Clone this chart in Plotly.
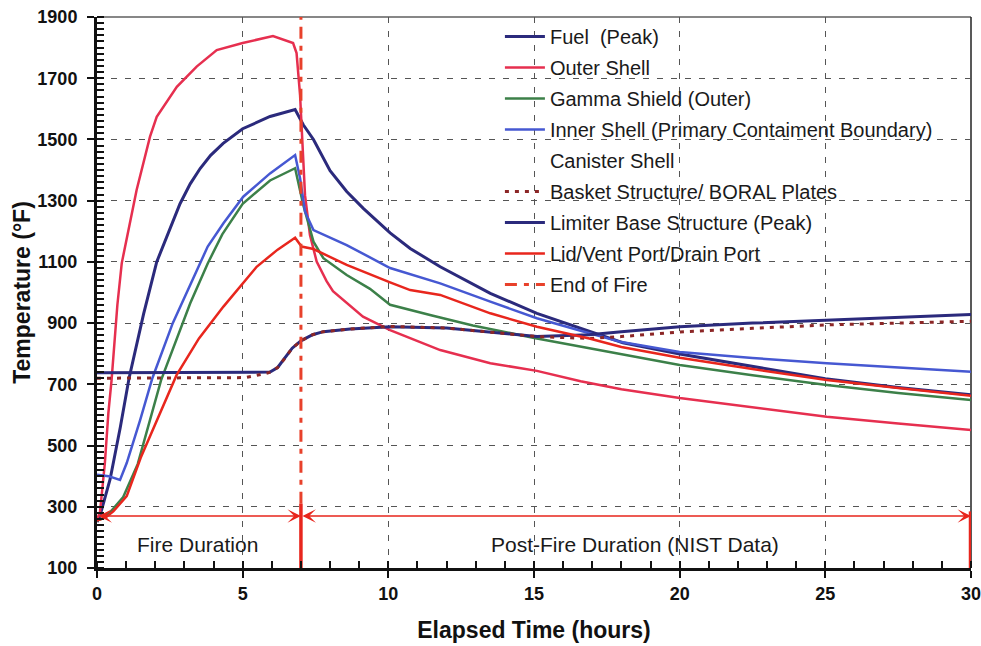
import plotly.graph_objects as go

# ---------------- data ----------------
fuel_t = [0, 0.1, 0.45, 0.8, 1.1, 1.6, 2.05, 2.5, 2.85, 3.2, 3.54, 3.9, 4.33, 5.0, 5.94, 6.8,
          7.08, 7.43, 8.0, 8.57, 9.14, 10.06, 10.75, 11.78, 13.5, 15.1, 16.9, 18.05,
          20, 22.5, 25, 27.5, 30]
fuel = [250, 270, 390, 560, 720, 930, 1100, 1210, 1290, 1355, 1405, 1448, 1487, 1535, 1575, 1598,
        1548, 1500, 1398, 1330, 1275, 1195, 1144, 1084, 997, 932, 872, 836,
        799, 758, 718, 690, 666]

outer_t = [0, 0.1, 0.27, 0.39, 0.5, 0.7, 0.85, 1.13, 1.36, 1.82, 2.05, 2.74, 3.42,
           4.11, 5.0, 6.04, 6.73, 6.85, 6.97, 7.14, 7.31, 7.54, 7.88, 8.1, 9.13,
           10.06, 11.78, 13.5, 15.1, 16.6, 18, 20, 22.5, 25.05, 27.5, 30]
outer = [260, 280, 443, 606, 714, 960, 1096, 1227, 1335, 1509, 1574, 1672, 1738,
         1792, 1815, 1838, 1815, 1782, 1645, 1318, 1188, 1101, 1037, 1004, 921,
         877, 812, 769, 744, 710, 684, 655, 624, 594, 572, 551]

gamma_t = [0, 0.2, 0.45, 0.9, 1.4, 2.2, 3.2, 3.8, 4.3, 5.0, 5.94, 6.8, 7.08, 7.43,
           7.77, 8.57, 9.37, 10.06, 11.5, 12.9, 15.1, 16.6, 18, 20, 22.5, 25.05, 27.5, 30]
gamma = [255, 262, 282, 332, 440, 714, 965, 1095, 1190, 1290, 1366, 1406, 1286, 1166,
         1112, 1057, 1012, 960, 925, 892, 850, 823, 798, 763, 730, 698, 672, 649]

inner_t = [0, 0.4, 0.79, 1.02, 1.48, 1.9, 2.6, 3.54, 3.8, 4.34, 5.02, 5.94, 6.8, 6.97,
           7.14, 7.43, 8.57, 10.06, 11.78, 13.5, 15.1, 16.9, 18, 20, 22.5, 25.05, 27.5, 30]
inner = [405, 400, 388, 443, 583, 720, 900, 1096, 1150, 1226, 1313, 1389, 1449, 1373,
         1264, 1204, 1155, 1080, 1030, 970, 916, 867, 838, 806, 786, 769, 755, 741]

basket_t = [0, 2, 4, 5.1, 5.9, 6.2, 6.45, 6.7, 7.0, 7.4, 7.77, 8.69, 10.06, 12, 15.1,
            16.9, 18, 20, 22.5, 25.05, 27.5, 30]
basket = [720, 720, 721, 722, 738, 755, 785, 818, 842, 862, 872, 881, 889, 884, 856,
          850, 856, 871, 883, 894, 900, 906]

limiter_t = [0, 2, 4, 5.94, 6.2, 6.45, 6.7, 7.0, 7.4, 7.77, 8.69, 10.06, 12, 15.1, 16.9,
             18, 20, 22.5, 25.05, 27.5, 30]
limiter = [738, 738, 738, 740, 755, 785, 818, 842, 862, 872, 881, 888, 884, 856, 862,
           872, 888, 900, 910, 919, 928]

lid_t = [0, 0.3, 0.56, 1.02, 1.5, 2.1, 2.73, 3.5, 4.34, 5.48, 6.2, 6.8, 7.02, 7.43,
         8.57, 10.06, 10.75, 11.78, 13.5, 15.1, 16.9, 18, 20, 22.5, 25.05, 27.5, 30]
lid = [255, 265, 285, 335, 460, 590, 730, 850, 954, 1084, 1140, 1179, 1150, 1142,
       1090, 1033, 1008, 992, 932, 888, 850, 822, 787, 750, 714, 688, 663]

end_fire_t = [7, 7]
end_fire = [310, 1900]

duration_level = 270
fire_start, fire_end, post_end = 0, 7, 30
bar_post_fire = [100, 310]
bar_end = [100, 285]

x_ticks = [0, 5, 10, 15, 20, 25, 30]
y_ticks = [100, 300, 500, 700, 900, 1100, 1300, 1500, 1700, 1900]

NAVY = "#2b2a7c"
PINK = "#e62f4f"
GREEN = "#3c8049"
BLUE = "#4658d2"
DRED = "#8c2626"
RED = "#e8261d"
FIRE = "#e8412b"
FONT = "Arial, Liberation Sans, sans-serif"

fig = go.Figure()

def add(t, v, name, color, width=2.5, dash="solid", showlegend=True):
    fig.add_trace(go.Scatter(x=t, y=v, name=name, mode="lines",
                             line=dict(color=color, width=width, dash=dash),
                             showlegend=showlegend, legendgroup=name))

add(fuel_t, fuel, "Fuel  (Peak)", NAVY, 3)
add(outer_t, outer, "Outer Shell", PINK, 2.5)
add(gamma_t, gamma, "Gamma Shield (Outer)", GREEN, 2.5)
add(inner_t, inner, "Inner Shell (Primary Contaiment Boundary)", BLUE, 2.5)
# entry without a visible line, as in the reference legend
fig.add_trace(go.Scatter(x=[0, 1], y=[-500, -500], name="Canister Shell", mode="lines",
                         line=dict(color="rgba(0,0,0,0)", width=2), legendgroup="can"))
add(limiter_t, limiter, "Limiter Base Structure (Peak)", NAVY, 3, showlegend=False)
add(basket_t, basket, "Basket Structure/ BORAL Plates", DRED, 3, dash="4px,6px")
fig.add_trace(go.Scatter(x=[0, 1], y=[-500, -500], name="Limiter Base Structure (Peak)",
                         mode="lines", line=dict(color=NAVY, width=3), legendgroup="lim2"))
add(lid_t, lid, "Lid/Vent Port/Drain Port", RED, 2.5)
add(end_fire_t, end_fire, "End of Fire", FIRE, 3, dash="12px,7px,5px,7px")

# thick vertical markers of the durations
add([fire_end, fire_end], bar_post_fire, "bar1", RED, 3.5, showlegend=False)
add([post_end, post_end], bar_end, "bar2", RED, 4.5, showlegend=False)

# duration arrows
for a, b in [(fire_start, fire_end), (fire_end, post_end)]:
    fig.add_annotation(x=b, y=duration_level, ax=a, ay=duration_level,
                       xref="x", yref="y", axref="x", ayref="y", text="",
                       showarrow=True, arrowside="end+start", arrowhead=3,
                       startarrowhead=3, arrowsize=1.5, startarrowsize=1.5,
                       arrowwidth=1.5, arrowcolor=RED)

fig.add_annotation(x=3.45, y=178, text="Fire Duration", showarrow=False,
                   font=dict(family=FONT, size=21, color="#1a1a1a"))
fig.add_annotation(x=18.45, y=178, text="Post-Fire Duration (NIST Data)", showarrow=False,
                   font=dict(family=FONT, size=21, color="#1a1a1a"))

# top and right frame (drawn below the traces)
fig.add_shape(type="line", x0=0, x1=1, y0=1, y1=1, xref="paper", yref="paper",
              line=dict(color="#111", width=1.2), layer="below")
fig.add_shape(type="line", x0=1, x1=1, y0=0, y1=1, xref="paper", yref="paper",
              line=dict(color="#222", width=1.5), layer="below")

axis_common = dict(
    showline=True, linecolor="#111", linewidth=3, automargin=False,
    ticks="outside", ticklen=7, tickwidth=2, tickcolor="#111",
    showgrid=True, gridcolor="#555", gridwidth=1, griddash="6px,8px",
    zeroline=False, ticklabeloverflow="allow",
    tickfont=dict(family=FONT, size=18, color="#111", weight="bold"),
)

fig.update_xaxes(range=[0, 30], tickvals=x_ticks, ticktext=[str(v) for v in x_ticks],
                 minor=dict(dtick=1, ticks="inside", ticklen=7, tickwidth=2,
                            tickcolor="#111", showgrid=False),
                 title=dict(text="Elapsed Time (hours)", standoff=20,
                            font=dict(family=FONT, size=23, color="#111", weight="bold")),
                 **axis_common)
fig.update_yaxes(range=[100, 1900], tickvals=y_ticks, ticktext=[str(v) for v in y_ticks],
                 minor=dict(dtick=20, ticks="inside", ticklen=7, tickwidth=2,
                            tickcolor="#111", showgrid=False),
                 ticklabelstandoff=6,
                 title=dict(text="Temperature (°F)", standoff=1,
                            font=dict(family=FONT, size=23, color="#111", weight="bold")),
                 **axis_common)

fig.update_layout(
    width=981, height=646,
    margin=dict(l=97, r=10, t=17, b=78),
    plot_bgcolor="white", paper_bgcolor="white",
    font=dict(family=FONT, size=16, color="#1a1a1a"),
    legend=dict(x=0.461, y=1.0, xanchor="left", yanchor="top",
                bgcolor="rgba(255,255,255,0)", borderwidth=0,
                font=dict(family=FONT, size=20, color="#1a1a1a"),
                tracegroupgap=2, itemwidth=40),
)

fig.write_html("out.html", config={"displayModeBar": False},
               post_script="document.body.style.margin='0';"
               "document.body.style.overflow='hidden';")
